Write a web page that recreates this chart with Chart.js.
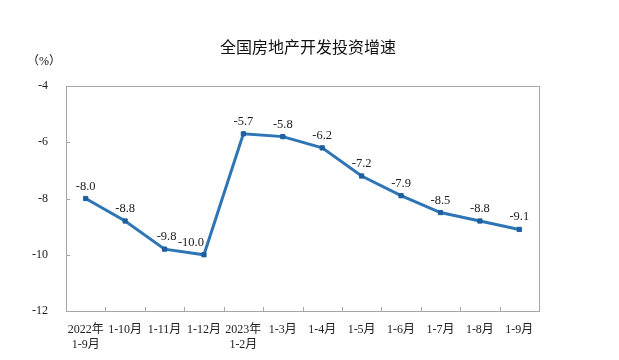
<!DOCTYPE html>
<html>
<head>
<meta charset="utf-8">
<script src="https://cdn.jsdelivr.net/npm/chart.js@4/dist/chart.umd.min.js"></script>
<style>
  html, body { margin: 0; padding: 0; background: #fff; }
  #box { width: 619px; height: 360px; }
</style>
</head>
<body>
<div id="box"><canvas id="myChart"></canvas></div>
<script>
// data
const months = [["2022年", "1-9月"], "1-10月", "1-11月", "1-12月", ["2023年", "1-2月"],
  "1-3月", "1-4月", "1-5月", "1-6月", "1-7月", "1-8月", "1-9月"];
const growth = [-8.0, -8.8, -9.8, -10.0, -5.7, -5.8, -6.2, -7.2, -7.9, -8.5, -8.8, -9.1];
const yTicks = [-4, -6, -8, -10, -12];

const serif = "'Liberation Serif', 'Noto Sans CJK SC', serif";

// title, unit, frame, inner ticks and value labels
const extras = {
  id: "extras",
  afterDatasetsDraw(chart) {
    const ctx = chart.ctx;
    const a = chart.chartArea;
    const xs = chart.scales.x, ys = chart.scales.y;
    ctx.save();

    ctx.strokeStyle = "#a6a6a6";
    ctx.lineWidth = 1;
    ctx.strokeRect(a.left + 0.5, a.top + 0.5, a.right - a.left, a.bottom - a.top);

    ctx.beginPath();
    for (let i = 1; i < months.length; i++) {
      const x = Math.round((xs.getPixelForValue(i - 1) + xs.getPixelForValue(i)) / 2) + 0.5;
      ctx.moveTo(x, a.bottom);
      ctx.lineTo(x, a.bottom - 4);
    }
    yTicks.forEach(v => {
      const y = Math.round(ys.getPixelForValue(v)) + 0.5;
      ctx.moveTo(a.left, y);
      ctx.lineTo(a.left + 4, y);
    });
    ctx.stroke();

    ctx.fillStyle = "#111";
    ctx.textAlign = "center";
    ctx.textBaseline = "middle";
    ctx.font = "16px 'Noto Sans CJK SC', sans-serif";
    ctx.fillText("全国房地产开发投资增速", 308, 47);

    ctx.font = "12px " + serif;
    ctx.fillText("（%）", 44, 62);

    ctx.font = "12.5px " + serif;
    ctx.fillStyle = "#222";
    ctx.textBaseline = "bottom";
    const meta = chart.getDatasetMeta(0);
    meta.data.forEach((pt, i) => {
      // the low point's label sits to the left so it clears the rising line
      const dx = i === 3 ? -13 : (i === 2 ? 2 : 0);
      ctx.fillText(growth[i].toFixed(1), pt.x + dx, pt.y - 6);
    });
    ctx.restore();
  }
};

let myChart = document.getElementById("myChart").getContext("2d");

let growthChart = new Chart(myChart, {
  type: "line",
  data: {
    labels: months,
    datasets: [
      {
        data: growth,
        borderColor: "#2e75b6",
        borderWidth: 3,
        pointStyle: "rect",
        pointRadius: 3,
        pointBackgroundColor: "#1f5fa0",
        pointBorderColor: "#1f5fa0",
        pointBorderWidth: 1,
        tension: 0,
      },
    ],
  },
  options: {
    responsive: true,
    maintainAspectRatio: false,
    animation: false,
    layout: { padding: { left: 0, right: 80, top: 86, bottom: 0 } },
    plugins: {
      legend: { display: false },
      title: { display: false },
      tooltip: { enabled: false },
    },
    scales: {
      x: {
        offset: true,
        grid: { display: false },
        border: { display: true, color: "#a6a6a6" },
        ticks: {
          color: "#222",
          font: { family: serif, size: 12 },
          maxRotation: 0,
          autoSkip: false,
          padding: 4,
        },
        afterFit(scale) { scale.height = 49; },
      },
      y: {
        min: -12,
        max: -4,
        grid: { display: false },
        border: { display: true, color: "#a6a6a6" },
        afterBuildTicks(scale) { scale.ticks = yTicks.map(v => ({ value: v })); },
        ticks: {
          color: "#222",
          font: { family: serif, size: 12 },
          padding: 10,
        },
        afterFit(scale) { scale.width = 66; },
      },
    },
  },
  plugins: [extras],
});
</script>
</body>
</html>
